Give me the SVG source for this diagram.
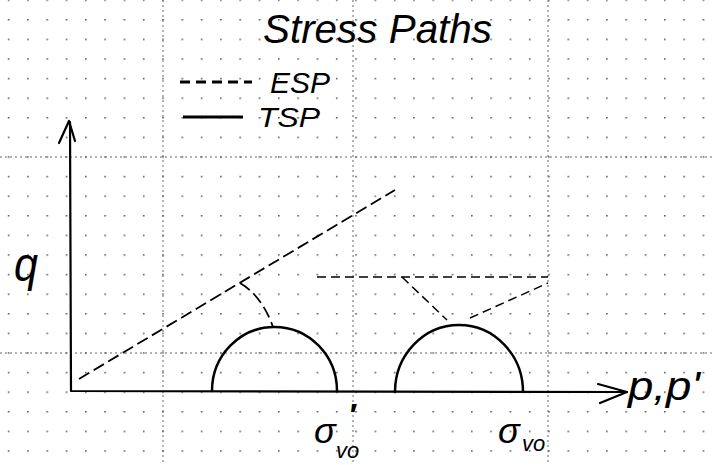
<svg xmlns="http://www.w3.org/2000/svg" width="714" height="465" viewBox="0 0 714 465">
<defs>
<pattern id="dots" x="7.8" y="-0.6" width="19.3" height="19.6" patternUnits="userSpaceOnUse"><circle cx="0.8" cy="0.8" r="0.9" fill="#555"/></pattern>
</defs>
<style>
.hand{font-family:"Liberation Sans",Arial,sans-serif;font-style:italic;fill:#000}
.grid{stroke:#666;stroke-width:1;stroke-dasharray:2 3;fill:none}
.tsp{stroke:#000;stroke-width:2.5;fill:none;stroke-linecap:round}
.esp{stroke:#000;stroke-width:1.8;fill:none;stroke-dasharray:12 5}
.espl{stroke:#000;stroke-width:1.5;fill:none;stroke-dasharray:9 5}
.axis{stroke:#000;stroke-width:2.2;fill:none;stroke-linecap:round;stroke-linejoin:round}
</style>
<rect width="714" height="465" fill="#fff"/>
<g id="grid">
<rect width="714" height="465" fill="url(#dots)"/>
<path class="grid" d="M163,0V465M353,0V465M548,0V465M0,157H714M0,353H714"/>
</g>
<g id="title"><text class="hand" x="263" y="43" font-size="40" textLength="229" lengthAdjust="spacingAndGlyphs">Stress Paths</text></g>
<g id="legend">
<path d="M180,82H252" stroke="#000" stroke-width="3" stroke-dasharray="10 6" fill="none"/>
<text class="hand" x="270" y="93" font-size="29" textLength="60" lengthAdjust="spacingAndGlyphs">ESP</text>
<path d="M183,117H243" stroke="#000" stroke-width="3" fill="none"/>
<text class="hand" x="258" y="127" font-size="27" textLength="62" lengthAdjust="spacingAndGlyphs">TSP</text>
</g>
<g id="axes">
<path class="axis" d="M70,122L71,391L627,392"/>
<path class="axis" d="M59,143L69,121L75,141"/>
<path class="axis" d="M598,384L627,392L600,403"/>
<text class="hand" x="14" y="281" font-size="48" textLength="24" lengthAdjust="spacingAndGlyphs">q</text>
<text class="hand" x="628" y="400" font-size="40" textLength="72" lengthAdjust="spacingAndGlyphs">p,p'</text>
</g>
<g id="sigma-vo-eff">
<text class="hand" x="314" y="443" font-size="36">σ</text>
<text class="hand" x="348" y="426" font-size="32" font-weight="bold">′</text>
<text class="hand" x="336" y="458" font-size="22">vo</text>
</g>
<g id="sigma-vo">
<text class="hand" x="498" y="443" font-size="36">σ</text>
<text class="hand" x="522" y="451" font-size="22">vo</text>
</g>
<g id="connectors">
<path id="tsp-circle-1" class="tsp" d="M212,391A62.5,64 0 0 1 337,391"/>
<path id="tsp-circle-2" class="tsp" d="M395,392A64,67 0 0 1 523,392"/>
<path id="esp-envelope" class="esp" d="M79,379L395,190"/>
<path id="esp-arc" class="esp" d="M240,283Q262,296 273,327"/>
<path id="esp-horizontal" class="espl" d="M317,277L548,277"/>
<path id="esp-down" class="espl" d="M402,277L447,320"/>
<path id="esp-up" class="espl" d="M470,318L548,283"/>
</g>
</svg>
